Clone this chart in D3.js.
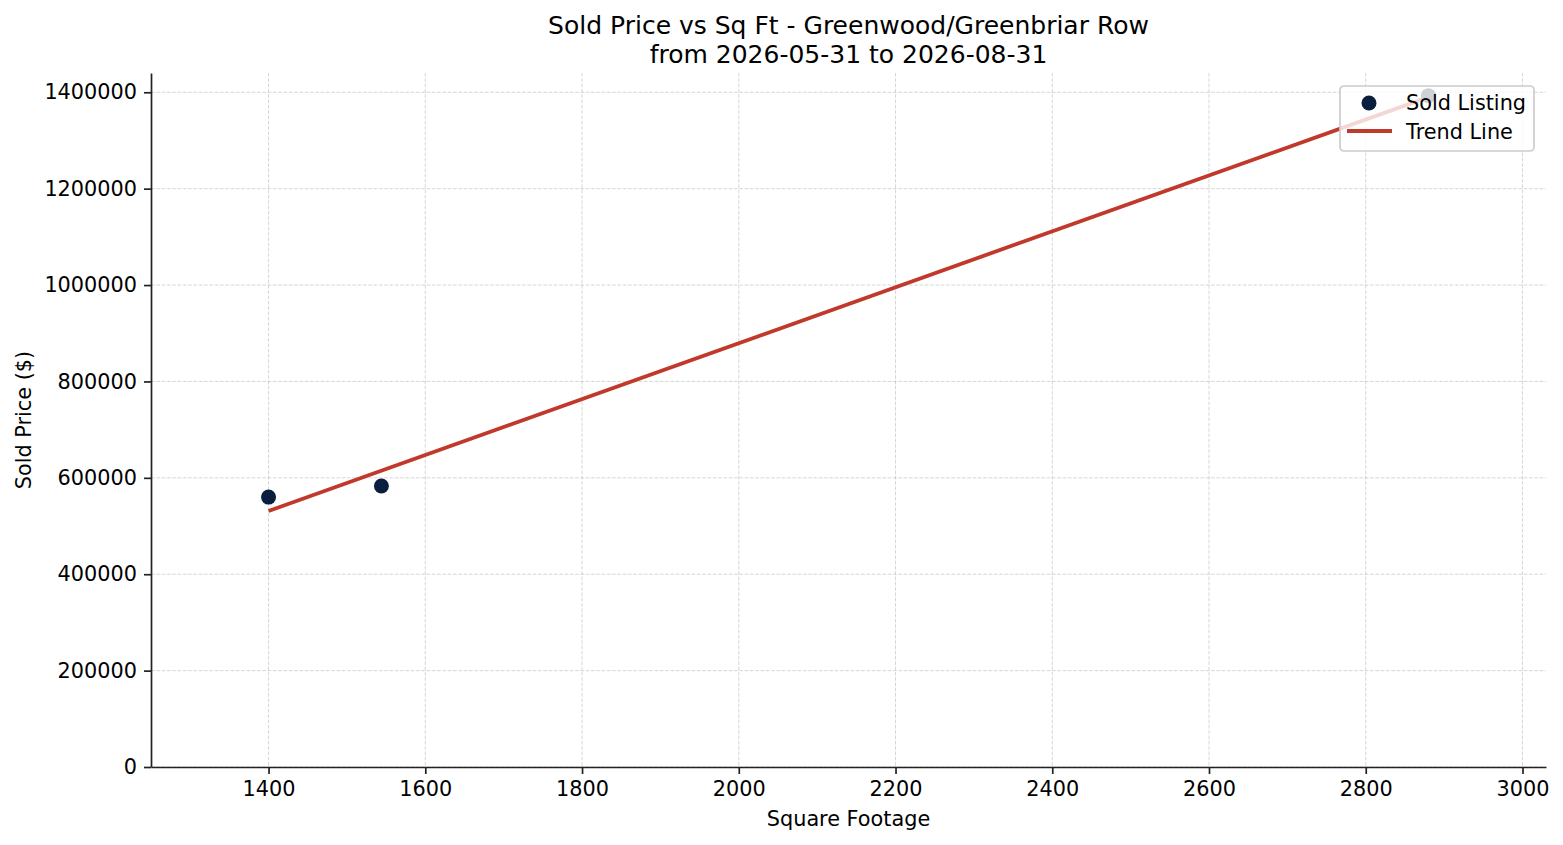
<!DOCTYPE html>
<html>
<head>
<meta charset="utf-8">
<script src="https://cdn.jsdelivr.net/npm/d3@7"></script>
<style>
	body { margin: 0; background: #fff; }
	text { font-family: "DejaVu Sans", sans-serif; fill: #000; }
</style>
</head>
<body>
<div id="chartId"></div>
<script>

// Sold listings (sq ft, sold price)
var sqFt = [1400, 1544, 2880];
var soldPrice = [560000, 583000, 1393000];

var xTicks = [1400, 1600, 1800, 2000, 2200, 2400, 2600, 2800, 3000];
var yTicks = [0, 200000, 400000, 600000, 800000, 1000000, 1200000, 1400000];

var titleLines = ["Sold Price vs Sq Ft - Greenwood/Greenbriar Row", "from 2026-05-31 to 2026-08-31"];


/*
 *  Scatter + trend line chart
 */
function ScatterChart(parentElement, xs, ys){
	var vis = this;
	vis.parentElement = parentElement;
	vis.xs = xs;
	vis.ys = ys;
	vis.init();
};

ScatterChart.prototype.init = function() {
	var vis = this;
	vis.width = 1563;
	vis.height = 845;
	vis.margin = {left: 151, right: 17, top: 73, bottom: 78};
	vis.innerW = vis.width - vis.margin.left - vis.margin.right;
	vis.innerH = vis.height - vis.margin.top - vis.margin.bottom;

	vis.svg = d3.select("#" + vis.parentElement).append("svg")
		.attr("width", vis.width)
		.attr("height", vis.height);

	vis.g = vis.svg.append("g")
		.attr("transform", "translate(" + vis.margin.left + "," + vis.margin.top + ")");

	// xlim = min-150 .. max+150, ylim = 0 .. a bit above max
	vis.x = d3.scaleLinear()
		.domain([d3.min(vis.xs) - 150, d3.max(vis.xs) + 150])
		.range([0, vis.innerW]);
	vis.y = d3.scaleLinear()
		.domain([0, 1440000])
		.range([vis.innerH, 0]);

	vis.wrangleData();
};

ScatterChart.prototype.wrangleData = function() {
	var vis = this;

	vis.points = vis.xs.map(function(d, i){ return {x: d, y: vis.ys[i]}; });

	// least squares fit for the trend line
	var mx = d3.mean(vis.xs), my = d3.mean(vis.ys);
	var sxy = d3.sum(vis.points, function(p){ return (p.x - mx) * (p.y - my); });
	var sxx = d3.sum(vis.points, function(p){ return (p.x - mx) * (p.x - mx); });
	var slope = sxy / sxx;
	var icpt = my - slope * mx;
	vis.trend = d3.extent(vis.xs).map(function(v){ return {x: v, y: icpt + slope * v}; });

	vis.updateVis();
};

ScatterChart.prototype.updateVis = function() {
	var vis = this;

	// grid
	vis.g.append("g").selectAll("line").data(xTicks).enter().append("line")
		.attr("x1", function(d){ return vis.x(d); })
		.attr("x2", function(d){ return vis.x(d); })
		.attr("y1", 0).attr("y2", vis.innerH)
		.attr("stroke", "#b0b0b0").attr("stroke-opacity", 0.5)
		.attr("stroke-width", 1).attr("stroke-dasharray", "3.7,1.6");
	vis.g.append("g").selectAll("line").data(yTicks).enter().append("line")
		.attr("y1", function(d){ return vis.y(d); })
		.attr("y2", function(d){ return vis.y(d); })
		.attr("x1", 0).attr("x2", vis.innerW)
		.attr("stroke", "#b0b0b0").attr("stroke-opacity", 0.5)
		.attr("stroke-width", 1).attr("stroke-dasharray", "3.7,1.6");

	// axes
	var xAxis = d3.axisBottom(vis.x).tickValues(xTicks).tickFormat(d3.format("d"))
		.tickSizeInner(7).tickSizeOuter(0).tickPadding(7);
	var yAxis = d3.axisLeft(vis.y).tickValues(yTicks).tickFormat(d3.format("d"))
		.tickSizeInner(7).tickSizeOuter(0).tickPadding(7);

	var gx = vis.g.append("g").attr("transform", "translate(0," + vis.innerH + ")").call(xAxis);
	var gy = vis.g.append("g").call(yAxis);
	[gx, gy].forEach(function(a){
		a.selectAll("path").attr("stroke", "#222").attr("stroke-width", 1.7);
		a.selectAll(".tick line").attr("stroke", "#222").attr("stroke-width", 1.7);
		a.selectAll("text").style("font-size", "20.8px").style("font-family", "DejaVu Sans");
	});

	// trend line
	vis.g.append("path").datum(vis.trend)
		.attr("fill", "none").attr("stroke", "#c0392b").attr("stroke-width", 3.8)
		.attr("d", d3.line().x(function(d){ return vis.x(d.x); }).y(function(d){ return vis.y(d.y); }));

	// points
	vis.g.selectAll("circle.pt").data(vis.points).enter().append("circle")
		.attr("class", "pt")
		.attr("cx", function(d){ return vis.x(d.x); })
		.attr("cy", function(d){ return vis.y(d.y); })
		.attr("r", 7.5)
		.attr("fill", "#0a1f3f");

	// labels
	vis.svg.selectAll("text.title").data(titleLines).enter().append("text")
		.attr("class", "title")
		.attr("x", vis.margin.left + vis.innerW / 2)
		.attr("y", function(d, i){ return 34 + i * 29; })
		.attr("text-anchor", "middle")
		.style("font-size", "25px")
		.text(function(d){ return d; });

	vis.svg.append("text")
		.attr("x", vis.margin.left + vis.innerW / 2)
		.attr("y", 826)
		.attr("text-anchor", "middle")
		.style("font-size", "20.8px")
		.text("Square Footage");

	vis.svg.append("text")
		.attr("transform", "translate(31," + (vis.margin.top + vis.innerH / 2) + ") rotate(-90)")
		.attr("text-anchor", "middle")
		.style("font-size", "20.8px")
		.text("Sold Price ($)");

	// legend
	var lg = vis.g.append("g").attr("transform", "translate(" + (1340 - vis.margin.left) + "," + (86 - vis.margin.top) + ")");
	lg.append("rect")
		.attr("width", 194).attr("height", 65).attr("rx", 4)
		.attr("fill", "#fff").attr("fill-opacity", 0.8)
		.attr("stroke", "#cccccc").attr("stroke-width", 1.7);
	lg.append("circle").attr("cx", 29).attr("cy", 17).attr("r", 7.5).attr("fill", "#0a1f3f");
	lg.append("line").attr("x1", 7).attr("x2", 52).attr("y1", 45).attr("y2", 45)
		.attr("stroke", "#c0392b").attr("stroke-width", 3.8);
	lg.selectAll("text").data(["Sold Listing", "Trend Line"]).enter().append("text")
		.attr("x", 66)
		.attr("y", function(d, i){ return 24 + i * 29; })
		.style("font-size", "20.8px")
		.text(function(d){ return d; });
};

new ScatterChart("chartId", sqFt, soldPrice);

</script>
</body>
</html>
